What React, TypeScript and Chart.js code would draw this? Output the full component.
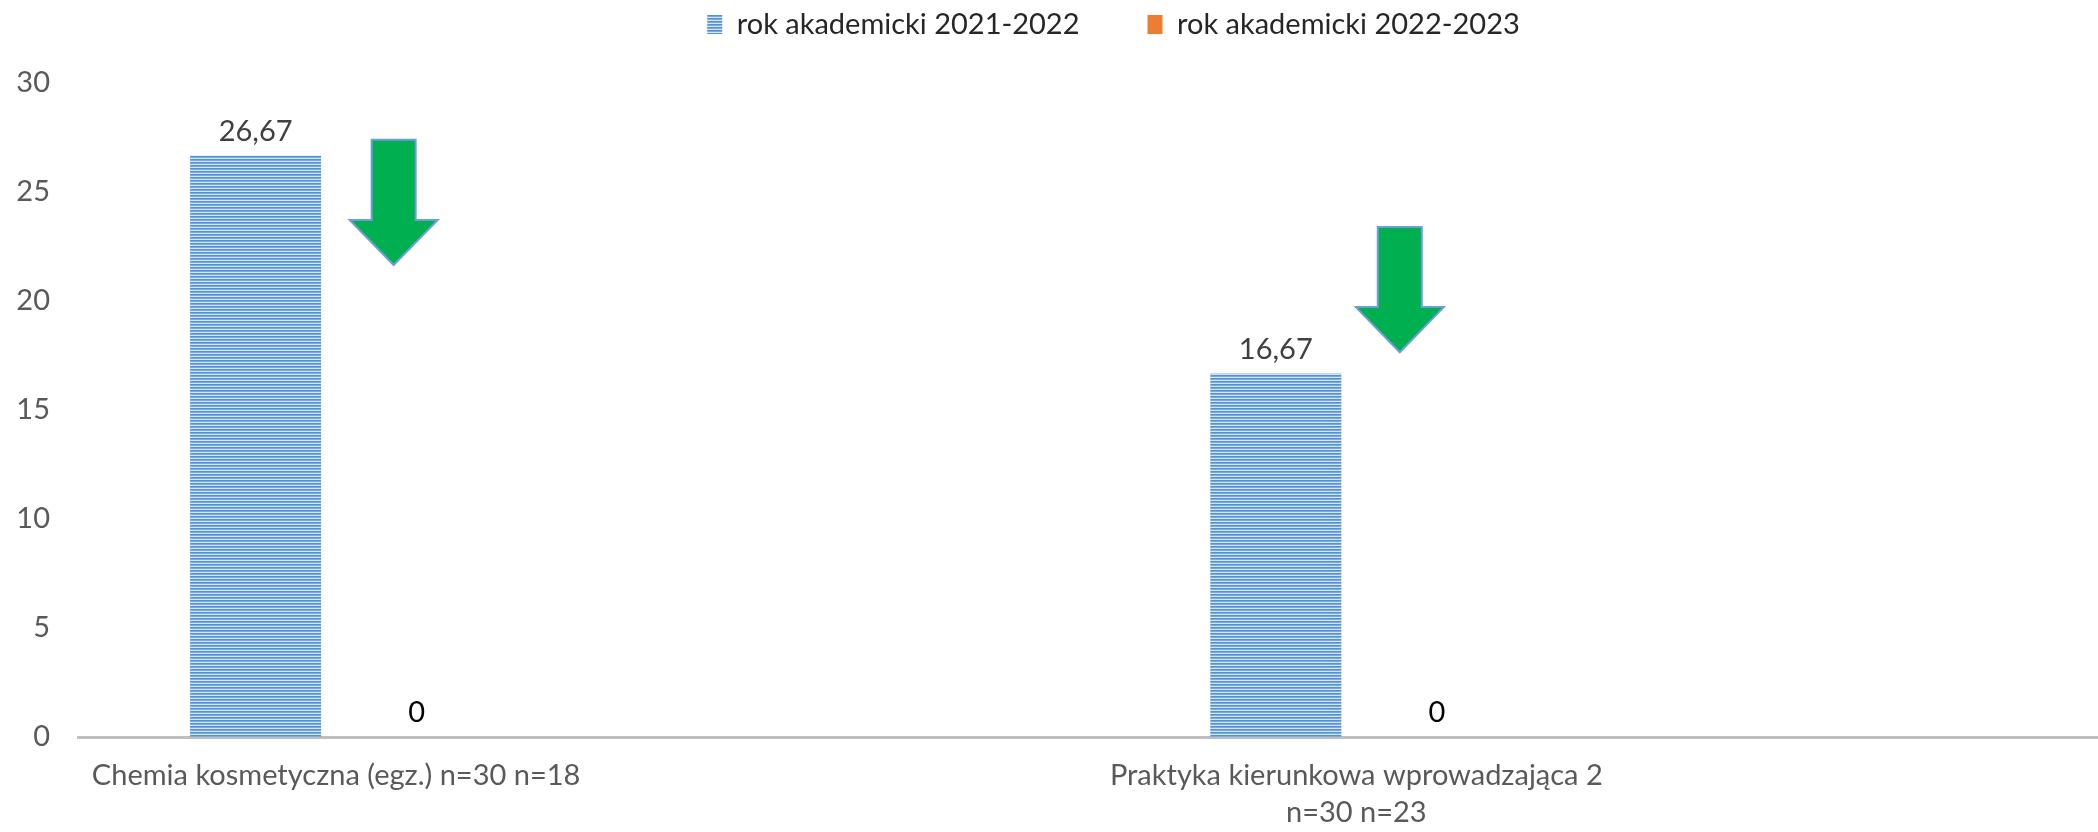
import React, { useEffect, useRef } from 'react';
import { Chart, registerables } from 'chart.js';

Chart.register(...registerables);

// ---- data ----
const CATEGORIES: (string | string[])[] = [
  'Chemia kosmetyczna (egz.) n=30 n=18',
  ['Praktyka kierunkowa wprowadzająca 2', 'n=30 n=23'],
];
const SERIES_NAMES = ['rok akademicki 2021-2022', 'rok akademicki 2022-2023'];
const VALUES_2021_2022 = [26.67, 16.67];
const VALUES_2022_2023 = [0, 0];
const Y_MIN = 0;
const Y_MAX = 30;
const Y_STEP = 5;

// category-axis value range (the plot is shifted like in the original)
const X_MIN = -0.253;
const X_MAX = 1.726;

// decorative down arrows (value space)
const ARROW_CATEGORY = [0, 1];
const ARROW_OFFSET = [0.0564, 0.0426];
const ARROW_TOP = [27.4, 23.4];
const ARROW_TIP = [21.65, 17.65];

const FONT = 'Lato, "Open Sans", sans-serif';
const FONT_SIZE = 29;
const LABEL_COLORS = ['#404040', '#000000'];
const LEGEND_DX = 26;
const LEGEND_DY = -34;

function makeStripePattern(): CanvasPattern | string {
  const c = document.createElement('canvas');
  c.width = 4;
  c.height = 3;
  const g = c.getContext('2d');
  if (!g) return '#5B9BD5';
  g.fillStyle = '#5592D2';
  g.fillRect(0, 0, 4, 1);
  g.fillStyle = '#78ACE0';
  g.fillRect(0, 1, 4, 1);
  g.fillStyle = '#D2E4F6';
  g.fillRect(0, 2, 4, 1);
  const p = g.createPattern(c, 'repeat');
  return p || '#5B9BD5';
}

function fmt(v: number): string {
  return Number.isInteger(v) ? String(v) : v.toFixed(2).replace('.', ',');
}

const legendShiftPlugin = {
  id: 'legendShift',
  afterLayout(chart: any) {
    const lg = chart.legend;
    if (lg) {
      lg.left += LEGEND_DX;
      lg.right += LEGEND_DX;
      lg.top += LEGEND_DY;
      lg.bottom += LEGEND_DY;
    }
  },
};

const valueLabelPlugin = {
  id: 'valueLabels',
  afterDatasetsDraw(chart: any) {
    const { ctx } = chart;
    ctx.save();
    ctx.font = `${FONT_SIZE}px ${FONT}`;
    ctx.textAlign = 'center';
    ctx.textBaseline = 'alphabetic';
    chart.data.datasets.forEach((ds: any, di: number) => {
      const meta = chart.getDatasetMeta(di);
      meta.data.forEach((el: any, i: number) => {
        const v = ds.data[i];
        if (v === null || v === undefined) return;
        ctx.fillStyle = LABEL_COLORS[di];
        ctx.fillText(fmt(v), el.x, el.y - 15);
      });
    });
    ctx.restore();
  },
};

const arrowPlugin = {
  id: 'downArrows',
  afterDatasetsDraw(chart: any) {
    const { ctx } = chart;
    const x = chart.scales.x;
    const y = chart.scales.y;
    ctx.save();
    ARROW_CATEGORY.forEach((cat, i) => {
      const cx = x.getPixelForValue(cat + ARROW_OFFSET[i]);
      const top = y.getPixelForValue(ARROW_TOP[i]);
      const tip = y.getPixelForValue(ARROW_TIP[i]);
      const len = tip - top;
      const headH = len * 0.36;
      const shaftHalf = 22;
      const headHalf = 44;
      ctx.beginPath();
      ctx.moveTo(cx - shaftHalf, top);
      ctx.lineTo(cx + shaftHalf, top);
      ctx.lineTo(cx + shaftHalf, tip - headH);
      ctx.lineTo(cx + headHalf, tip - headH);
      ctx.lineTo(cx, tip);
      ctx.lineTo(cx - headHalf, tip - headH);
      ctx.lineTo(cx - shaftHalf, tip - headH);
      ctx.closePath();
      ctx.fillStyle = '#00B050';
      ctx.fill();
      ctx.lineWidth = 2;
      ctx.strokeStyle = '#6A9FD8';
      ctx.lineJoin = 'miter';
      ctx.stroke();
    });
    ctx.restore();
  },
};

export default function App() {
  const ref = useRef<HTMLCanvasElement | null>(null);

  useEffect(() => {
    document.body.style.margin = '0';
    const canvas = ref.current;
    if (!canvas) return;
    const stripes = makeStripePattern();
    const chart = new Chart(canvas, {
      type: 'bar',
      data: {
        labels: CATEGORIES,
        datasets: [
          {
            label: SERIES_NAMES[0],
            data: VALUES_2021_2022,
            backgroundColor: stripes as any,
            borderWidth: 0,
            categoryPercentage: 0.3157,
            barPercentage: 0.8137,
          },
          {
            label: SERIES_NAMES[1],
            data: VALUES_2022_2023,
            backgroundColor: '#ED7D31',
            borderWidth: 0,
            categoryPercentage: 0.3157,
            barPercentage: 0.8137,
          },
        ],
      },
      options: {
        animation: false,
        responsive: true,
        maintainAspectRatio: false,
        layout: { padding: { top: -58, right: 1, bottom: 0, left: 0 } },
        plugins: {
          tooltip: { enabled: false },
          legend: {
            display: true,
            position: 'top',
            fullSize: false,
            labels: {
              font: { family: FONT, size: FONT_SIZE },
              color: '#262626',
              boxWidth: 15,
              boxHeight: 19,
              padding: 68,
            },
          },
        },
        scales: {
          x: {
            type: 'category',
            offset: true,
            grid: { display: false, drawTicks: false },
            border: { display: true, color: '#BFBFBF', width: 3 },
            ticks: {
              color: '#595959',
              font: { family: FONT, size: FONT_SIZE, lineHeight: 1.27 },
              maxRotation: 0,
              minRotation: 0,
              autoSkip: false,
              padding: 20,
            },
            afterBuildTicks: (scale: any) => {
              scale._startValue = X_MIN;
              scale._valueRange = X_MAX - X_MIN;
            },
            afterFit: (scale: any) => {
              scale.height = 95;
            },
          },
          y: {
            min: Y_MIN,
            max: Y_MAX,
            grid: { display: false, drawTicks: false },
            border: { display: false },
            ticks: {
              stepSize: Y_STEP,
              color: '#595959',
              font: { family: FONT, size: FONT_SIZE },
              padding: 28,
            },
            afterFit: (scale: any) => {
              scale.width = 78;
              scale.paddingTop = 83;
            },
          },
        },
      },
      plugins: [legendShiftPlugin, valueLabelPlugin, arrowPlugin],
    });
    return () => chart.destroy();
  }, []);

  return (
    <div style={{ width: '2098px', height: '832px', position: 'relative' }}>
      <canvas ref={ref} />
    </div>
  );
}
